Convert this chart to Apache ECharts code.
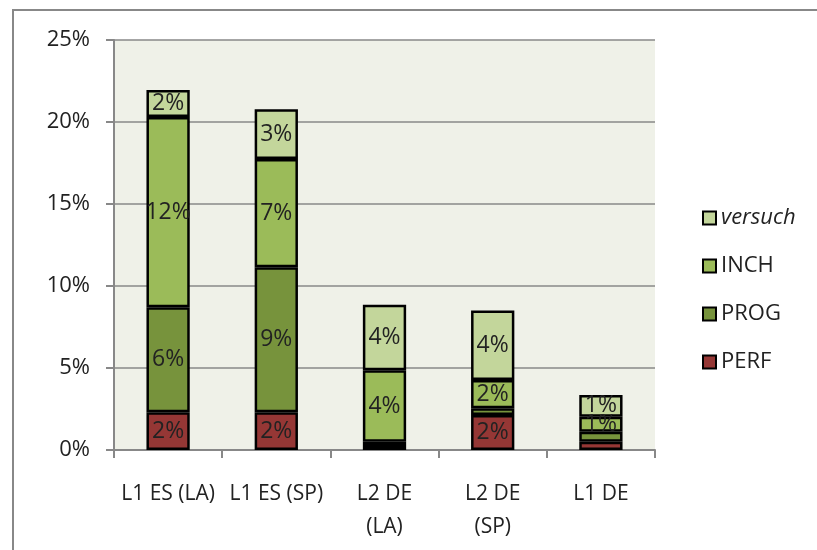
<!DOCTYPE html>
<html>
<head>
<meta charset="utf-8">
<script src="https://cdn.jsdelivr.net/npm/echarts@6/dist/echarts.min.js"></script>
<style>
  html, body { margin: 0; padding: 0; background: #fff; }
  #chart { width: 817px; height: 550px; }
</style>
</head>
<body>
<div id="chart"></div>
<script>
// groups on the x axis
var categories = ['L1 ES (LA)', 'L1 ES (SP)', 'L2 DE\n(LA)', 'L2 DE\n(SP)', 'L1 DE']
// shares in percent
var perf = [2.3, 2.3, 0.25, 2.13, 0.51]
var prog = [6.4, 8.84, 0.25, 0.41, 0.61]
var inch = [11.6, 6.6, 4.37, 1.73, 0.91]
var versuch = [1.65, 3.03, 3.98, 4.23, 1.32]
var yTicks = [0, 5, 10, 15, 20, 25]

var font = "'Open Sans', sans-serif"

function withLabels(values) {
  return values.map(function (v) {
    // tiny segments carry no label
    return { value: v, label: { show: v >= 0.7 } }
  })
}

function makeSeries(name, values, color) {
  return {
    name: name,
    type: 'bar',
    stack: 'total',
    barWidth: '40%',
    data: withLabels(values),
    itemStyle: {
      color: color,
      borderColor: '#000',
      borderWidth: 2.5
    },
    label: {
      position: 'inside',
      color: '#222',
      fontSize: 23,
      fontFamily: font,
      formatter: function (p) {
        return Math.round(p.value) + '%'
      }
    }
  }
}

var chart = echarts.init(document.getElementById('chart'))
chart.setOption({
  animation: false,
  backgroundColor: '#fff',
  graphic: [{
    type: 'rect',
    z: -10,
    shape: { x: 13, y: 10, width: 830, height: 570 },
    style: { fill: 'none', stroke: '#888', lineWidth: 2 }
  }, {
    type: 'rect',
    z: -5,
    shape: { x: 114, y: 40, width: 541, height: 410 },
    style: { fill: '#eff1e8' }
  }],
  grid: {
    left: 114,
    right: 162,
    top: 40,
    bottom: 100
  },
  legend: {
    orient: 'vertical',
    left: 697,
    top: 202,
    itemWidth: 13,
    itemHeight: 13,
    itemGap: 26,
    itemTextGap: 7,
    icon: 'rect',
    textStyle: { fontSize: 22, color: '#222', fontFamily: font },
    data: [
      { name: 'versuch', textStyle: { fontStyle: 'italic' } },
      'INCH',
      'PROG',
      'PERF'
    ]
  },
  xAxis: {
    type: 'category',
    data: categories,
    axisLine: { lineStyle: { color: '#888', width: 2 } },
    axisTick: { show: true, length: 8, lineStyle: { color: '#888', width: 2 } },
    axisLabel: {
      interval: 0,
      margin: 28,
      color: '#222',
      fontSize: 21,
      lineHeight: 33,
      fontFamily: font
    }
  },
  yAxis: {
    type: 'value',
    min: yTicks[0],
    max: yTicks[yTicks.length - 1],
    interval: 5,
    axisLine: { show: true, lineStyle: { color: '#888', width: 2 } },
    axisTick: { show: true, length: 8, lineStyle: { color: '#888', width: 2 } },
    splitLine: { lineStyle: { color: '#888', width: 1.5 } },
    axisLabel: {
      margin: 24,
      color: '#222',
      fontSize: 22,
      fontFamily: font,
      formatter: '{value}%'
    }
  },
  series: [
    makeSeries('PERF', perf, '#953735'),
    makeSeries('PROG', prog, '#77933c'),
    makeSeries('INCH', inch, '#9bbb59'),
    makeSeries('versuch', versuch, '#c3d69b')
  ]
})
</script>
</body>
</html>
